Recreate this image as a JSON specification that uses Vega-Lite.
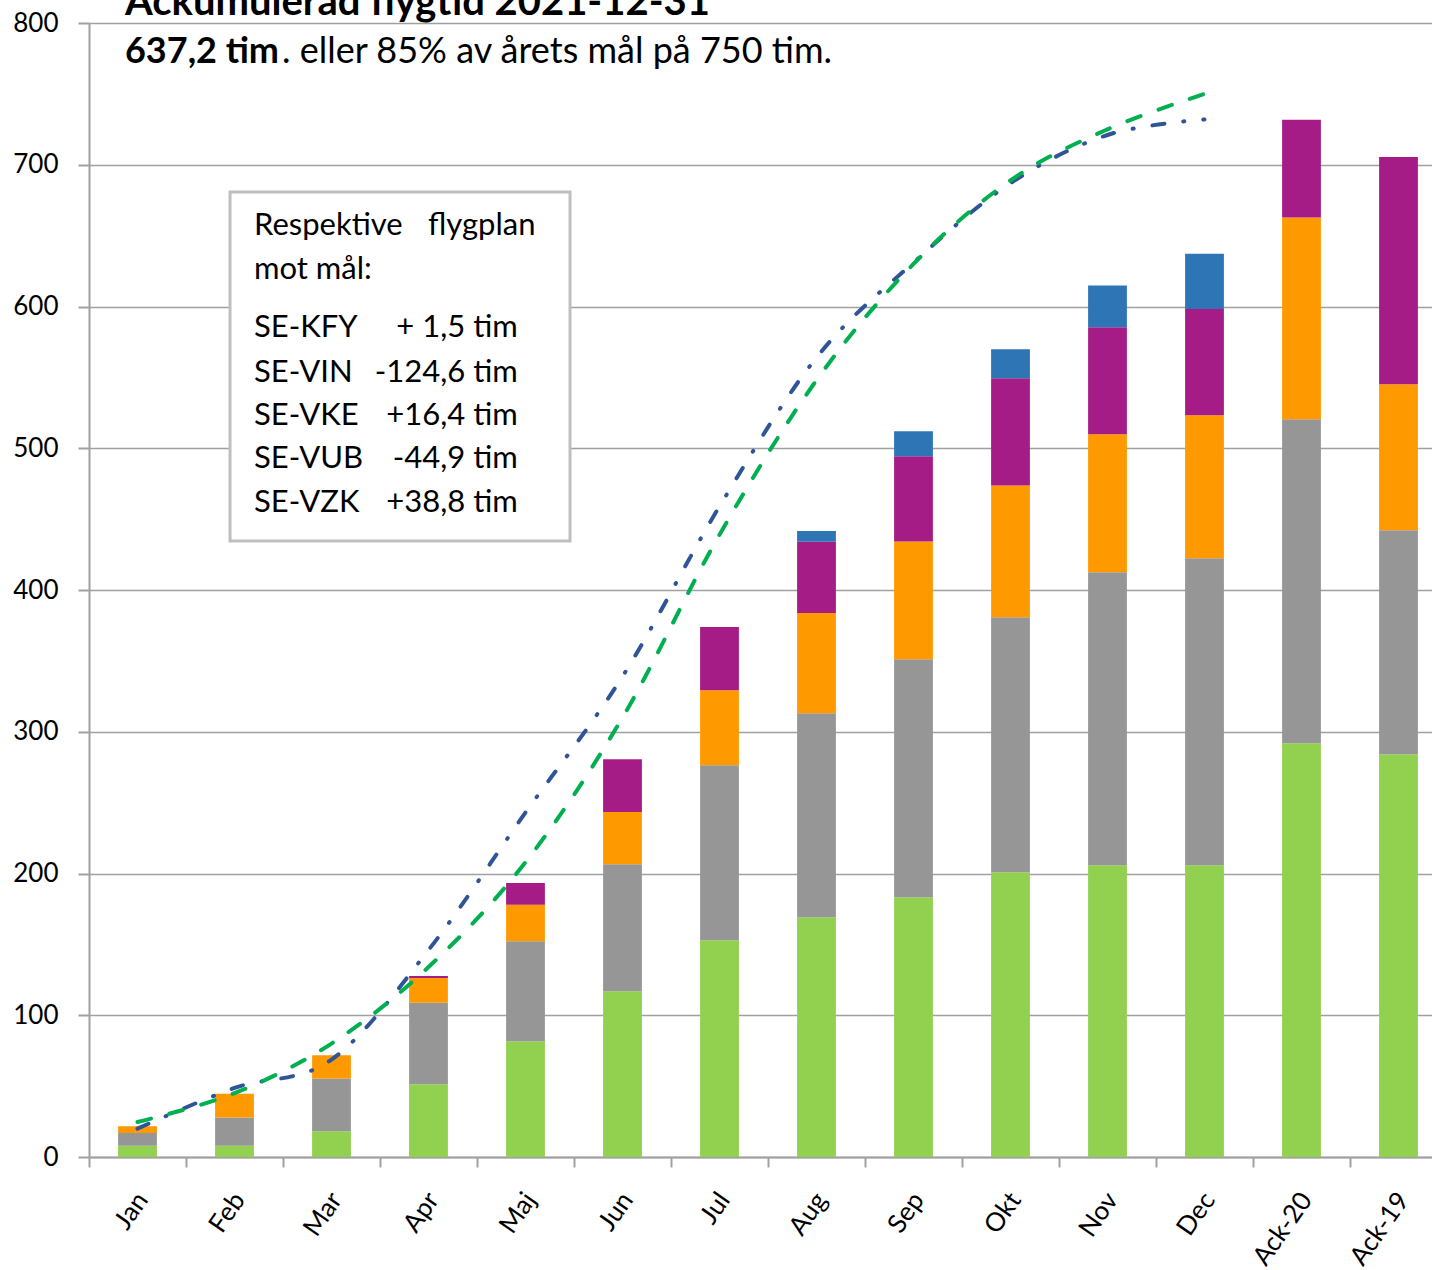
{
  "$schema": "https://vega.github.io/schema/vega-lite/v6.json",
  "width": 1343,
  "height": 1134,
  "autosize": {"type": "none"},
  "padding": {"left": 89, "top": 23, "right": 0, "bottom": 113},
  "background": "white",
  "config": {"font": "Lato", "view": {"stroke": null}},
  "datasets": {
    "staplar": [
      {"manad": "Jan", "plan": "Plan 1", "tim": 8.0},
      {"manad": "Jan", "plan": "Plan 2", "tim": 9.0},
      {"manad": "Jan", "plan": "Plan 3", "tim": 4.7},
      {"manad": "Feb", "plan": "Plan 1", "tim": 8.0},
      {"manad": "Feb", "plan": "Plan 2", "tim": 19.8},
      {"manad": "Feb", "plan": "Plan 3", "tim": 16.9},
      {"manad": "Mar", "plan": "Plan 1", "tim": 18.1},
      {"manad": "Mar", "plan": "Plan 2", "tim": 37.2},
      {"manad": "Mar", "plan": "Plan 3", "tim": 16.4},
      {"manad": "Apr", "plan": "Plan 1", "tim": 51.3},
      {"manad": "Apr", "plan": "Plan 2", "tim": 57.6},
      {"manad": "Apr", "plan": "Plan 3", "tim": 17.4},
      {"manad": "Apr", "plan": "Plan 4", "tim": 1.4},
      {"manad": "Maj", "plan": "Plan 1", "tim": 81.6},
      {"manad": "Maj", "plan": "Plan 2", "tim": 70.6},
      {"manad": "Maj", "plan": "Plan 3", "tim": 25.8},
      {"manad": "Maj", "plan": "Plan 4", "tim": 15.3},
      {"manad": "Jun", "plan": "Plan 1", "tim": 116.9},
      {"manad": "Jun", "plan": "Plan 2", "tim": 89.6},
      {"manad": "Jun", "plan": "Plan 3", "tim": 36.9},
      {"manad": "Jun", "plan": "Plan 4", "tim": 37.2},
      {"manad": "Jul", "plan": "Plan 1", "tim": 152.9},
      {"manad": "Jul", "plan": "Plan 2", "tim": 123.4},
      {"manad": "Jul", "plan": "Plan 3", "tim": 52.9},
      {"manad": "Jul", "plan": "Plan 4", "tim": 44.7},
      {"manad": "Aug", "plan": "Plan 1", "tim": 169.1},
      {"manad": "Aug", "plan": "Plan 2", "tim": 143.9},
      {"manad": "Aug", "plan": "Plan 3", "tim": 70.8},
      {"manad": "Aug", "plan": "Plan 4", "tim": 50.3},
      {"manad": "Aug", "plan": "Plan 5", "tim": 7.5},
      {"manad": "Sep", "plan": "Plan 1", "tim": 183.2},
      {"manad": "Sep", "plan": "Plan 2", "tim": 167.9},
      {"manad": "Sep", "plan": "Plan 3", "tim": 83.2},
      {"manad": "Sep", "plan": "Plan 4", "tim": 60.0},
      {"manad": "Sep", "plan": "Plan 5", "tim": 17.7},
      {"manad": "Okt", "plan": "Plan 1", "tim": 200.8},
      {"manad": "Okt", "plan": "Plan 2", "tim": 179.9},
      {"manad": "Okt", "plan": "Plan 3", "tim": 93.1},
      {"manad": "Okt", "plan": "Plan 4", "tim": 75.5},
      {"manad": "Okt", "plan": "Plan 5", "tim": 20.5},
      {"manad": "Nov", "plan": "Plan 1", "tim": 205.8},
      {"manad": "Nov", "plan": "Plan 2", "tim": 206.7},
      {"manad": "Nov", "plan": "Plan 3", "tim": 97.3},
      {"manad": "Nov", "plan": "Plan 4", "tim": 75.5},
      {"manad": "Nov", "plan": "Plan 5", "tim": 29.6},
      {"manad": "Dec", "plan": "Plan 1", "tim": 205.8},
      {"manad": "Dec", "plan": "Plan 2", "tim": 216.6},
      {"manad": "Dec", "plan": "Plan 3", "tim": 100.9},
      {"manad": "Dec", "plan": "Plan 4", "tim": 74.9},
      {"manad": "Dec", "plan": "Plan 5", "tim": 39.0},
      {"manad": "Ack-20", "plan": "Plan 1", "tim": 291.9},
      {"manad": "Ack-20", "plan": "Plan 2", "tim": 228.5},
      {"manad": "Ack-20", "plan": "Plan 3", "tim": 142.3},
      {"manad": "Ack-20", "plan": "Plan 4", "tim": 69.1},
      {"manad": "Ack-19", "plan": "Plan 1", "tim": 284.1},
      {"manad": "Ack-19", "plan": "Plan 2", "tim": 158.0},
      {"manad": "Ack-19", "plan": "Plan 3", "tim": 103.0},
      {"manad": "Ack-19", "plan": "Plan 4", "tim": 160.4}
    ],
    "linjer": [
      {"manad": "Jan", "serie": "Mål", "tim": 24.7},
      {"manad": "Feb", "serie": "Mål", "tim": 45},
      {"manad": "Mar", "serie": "Mål", "tim": 80},
      {"manad": "Apr", "serie": "Mål", "tim": 134},
      {"manad": "Maj", "serie": "Mål", "tim": 208},
      {"manad": "Jun", "serie": "Mål", "tim": 310},
      {"manad": "Jul", "serie": "Mål", "tim": 439},
      {"manad": "Aug", "serie": "Mål", "tim": 548},
      {"manad": "Sep", "serie": "Mål", "tim": 630},
      {"manad": "Okt", "serie": "Mål", "tim": 689},
      {"manad": "Nov", "serie": "Mål", "tim": 725},
      {"manad": "Dec", "serie": "Mål", "tim": 750},
      {"manad": "Jan", "serie": "Jämförelse", "tim": 20},
      {"manad": "Feb", "serie": "Jämförelse", "tim": 48.7},
      {"manad": "Mar", "serie": "Jämförelse", "tim": 68.7},
      {"manad": "Apr", "serie": "Jämförelse", "tim": 146},
      {"manad": "Maj", "serie": "Jämförelse", "tim": 243},
      {"manad": "Jun", "serie": "Jämförelse", "tim": 339},
      {"manad": "Jul", "serie": "Jämförelse", "tim": 459},
      {"manad": "Aug", "serie": "Jämförelse", "tim": 564},
      {"manad": "Sep", "serie": "Jämförelse", "tim": 631},
      {"manad": "Okt", "serie": "Jämförelse", "tim": 687},
      {"manad": "Nov", "serie": "Jämförelse", "tim": 721},
      {"manad": "Dec", "serie": "Jämförelse", "tim": 732}
    ],
    "ruta": [{"x1": 1.454, "x2": 4.959, "y1": 680.8, "y2": 434.6}],
    "rubrik": [{"x": 0.371, "y": 805.6, "txt": "Ackumulerad flygtid 2021-12-31"}],
    "rubrik_fet": [{"x": 0.371, "y": 772, "txt": "637,2 tim"}],
    "rubrik_normal": [{"x": 1.99, "y": 772, "txt": ". eller 85% av årets mål på 750 tim."}],
    "rutatext": [
      {"x": 1.701, "y": 650.4, "txt": "Respektive"},
      {"x": 3.495, "y": 650.4, "txt": "flygplan"},
      {"x": 1.701, "y": 619.2, "txt": "mot mål:"},
      {"x": 1.701, "y": 578.3, "txt": "SE-KFY"},
      {"x": 1.701, "y": 547.0, "txt": "SE-VIN"},
      {"x": 1.701, "y": 516.4, "txt": "SE-VKE"},
      {"x": 1.701, "y": 485.8, "txt": "SE-VUB"},
      {"x": 1.701, "y": 455.2, "txt": "SE-VZK"}
    ],
    "rutavarden": [
      {"x": 4.42, "y": 578.3, "txt": "+ 1,5 tim"},
      {"x": 4.42, "y": 547.0, "txt": "-124,6 tim"},
      {"x": 4.42, "y": 516.4, "txt": "+16,4 tim"},
      {"x": 4.42, "y": 485.8, "txt": "-44,9 tim"},
      {"x": 4.42, "y": 455.2, "txt": "+38,8 tim"}
    ]
  },
  "resolve": {"scale": {"x": "independent"}, "axis": {"x": "independent"}},
  "layer": [
    {
      "layer": [
        {
          "data": {"name": "staplar"},
          "mark": {"type": "bar"},
          "encoding": {
            "x": {
              "field": "manad",
              "type": "nominal",
              "sort": ["Jan", "Feb", "Mar", "Apr", "Maj", "Jun", "Jul", "Aug", "Sep", "Okt", "Nov", "Dec", "Ack-20", "Ack-19"],
              "scale": {
                "domain": ["Jan", "Feb", "Mar", "Apr", "Maj", "Jun", "Jul", "Aug", "Sep", "Okt", "Nov", "Dec", "Ack-20", "Ack-19"],
                "paddingInner": 0.6,
                "paddingOuter": 0.3,
                "range": [0, 1358]
              },
              "axis": {
                "title": null,
                "bandPosition": 0.5,
                "tickOffset": -48.5,
                "labelOffset": 53,
                "tickSize": 10,
                "tickWidth": 2,
                "tickColor": "#a0a0a0",
                "domainColor": "#a0a0a0",
                "domainWidth": 2,
                "labelAngle": -55,
                "labelFont": "Lato",
                "labelFontSize": 26,
                "labelColor": "#000000",
                "labelPadding": 28,
                "grid": false
              }
            },
            "y": {
              "field": "tim",
              "type": "quantitative",
              "stack": "zero",
              "scale": {"domain": [0, 800], "nice": false},
              "axis": {
                "title": null,
                "values": [0, 100, 200, 300, 400, 500, 600, 700, 800],
                "tickSize": 11,
                "tickWidth": 2,
                "tickColor": "#a0a0a0",
                "domainColor": "#a0a0a0",
                "domainWidth": 2,
                "gridColor": "#a0a0a0",
                "gridWidth": 1.5,
                "labelFont": "Lato",
                "labelFontSize": 26,
                "labelColor": "#000000",
                "labelPadding": 20
              }
            },
            "color": {
              "field": "plan",
              "type": "nominal",
              "scale": {
                "domain": ["Plan 1", "Plan 2", "Plan 3", "Plan 4", "Plan 5"],
                "range": ["#92d050", "#969696", "#ff9900", "#a61c87", "#2e75b6"]
              },
              "legend": null
            },
            "order": {"field": "plan", "sort": "ascending"}
          }
        },
        {
          "data": {"name": "linjer"},
          "transform": [{"filter": "datum.serie == 'Jämförelse'"}],
          "mark": {"type": "line", "color": "#2f5597", "strokeWidth": 4, "strokeDash": [12, 19, 1, 19], "strokeCap": "round", "interpolate": "cardinal"},
          "encoding": {
            "x": {"field": "manad", "type": "nominal", "sort": ["Jan", "Feb", "Mar", "Apr", "Maj", "Jun", "Jul", "Aug", "Sep", "Okt", "Nov", "Dec", "Ack-20", "Ack-19"]},
            "y": {"field": "tim", "type": "quantitative"}
          }
        },
        {
          "data": {"name": "linjer"},
          "transform": [{"filter": "datum.serie == 'Mål'"}],
          "mark": {"type": "line", "color": "#00b050", "strokeWidth": 4, "strokeDash": [14, 19], "strokeCap": "round", "interpolate": "cardinal"},
          "encoding": {
            "x": {"field": "manad", "type": "nominal", "sort": ["Jan", "Feb", "Mar", "Apr", "Maj", "Jun", "Jul", "Aug", "Sep", "Okt", "Nov", "Dec", "Ack-20", "Ack-19"]},
            "y": {"field": "tim", "type": "quantitative"}
          }
        }
      ]
    },
    {
      "layer": [
        {
          "data": {"name": "ruta"},
          "mark": {"type": "rect", "fill": "#ffffff", "stroke": "#bfbfbf", "strokeWidth": 3},
          "encoding": {
            "x": {"field": "x1", "type": "quantitative", "scale": {"domain": [0, 14], "range": [0, 1358], "nice": false, "zero": false}, "axis": null},
            "x2": {"field": "x2"},
            "y": {"field": "y1", "type": "quantitative"},
            "y2": {"field": "y2"}
          }
        },
        {
          "data": {"name": "rutatext"},
          "mark": {"type": "text", "align": "left", "baseline": "alphabetic", "font": "Lato", "fontSize": 31, "color": "#000000"},
          "encoding": {
            "x": {"field": "x", "type": "quantitative"},
            "y": {"field": "y", "type": "quantitative"},
            "text": {"field": "txt"}
          }
        },
        {
          "data": {"name": "rutavarden"},
          "mark": {"type": "text", "align": "right", "baseline": "alphabetic", "font": "Lato", "fontSize": 31, "color": "#000000"},
          "encoding": {
            "x": {"field": "x", "type": "quantitative"},
            "y": {"field": "y", "type": "quantitative"},
            "text": {"field": "txt"}
          }
        },
        {
          "data": {"name": "rubrik"},
          "mark": {"type": "text", "align": "left", "baseline": "alphabetic", "font": "Lato", "fontSize": 40, "fontWeight": "bold", "color": "#000000"},
          "encoding": {
            "x": {"field": "x", "type": "quantitative"},
            "y": {"field": "y", "type": "quantitative"},
            "text": {"field": "txt"}
          }
        },
        {
          "data": {"name": "rubrik_fet"},
          "mark": {"type": "text", "align": "left", "baseline": "alphabetic", "font": "Lato", "fontSize": 36, "fontWeight": "bold", "color": "#000000"},
          "encoding": {
            "x": {"field": "x", "type": "quantitative"},
            "y": {"field": "y", "type": "quantitative"},
            "text": {"field": "txt"}
          }
        },
        {
          "data": {"name": "rubrik_normal"},
          "mark": {"type": "text", "align": "left", "baseline": "alphabetic", "font": "Lato", "fontSize": 36, "color": "#000000"},
          "encoding": {
            "x": {"field": "x", "type": "quantitative"},
            "y": {"field": "y", "type": "quantitative"},
            "text": {"field": "txt"}
          }
        }
      ]
    }
  ]
}
